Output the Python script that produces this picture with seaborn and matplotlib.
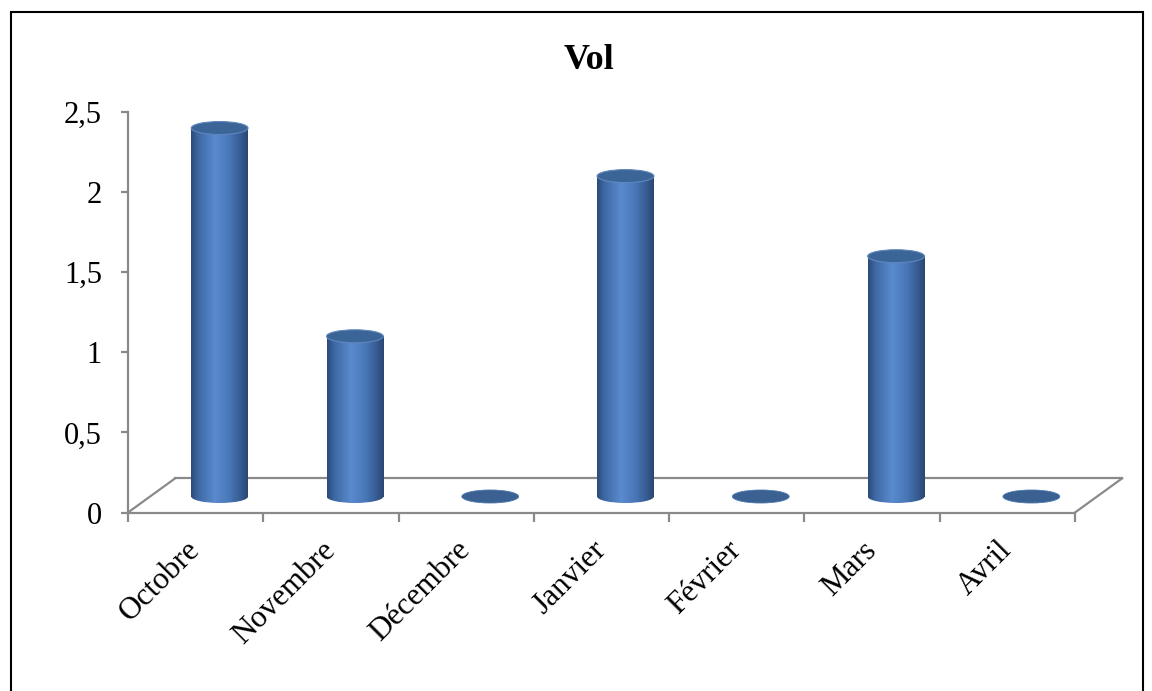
import numpy as np
import matplotlib
matplotlib.use("Agg")
import matplotlib.pyplot as plt
import seaborn as sns
import matplotlib.transforms as mtransforms
from matplotlib.patches import Ellipse, Rectangle
from matplotlib.lines import Line2D
from matplotlib.colors import LinearSegmentedColormap
from matplotlib.ticker import FuncFormatter

# ---- data ----
months = ["Octobre", "Novembre", "Décembre", "Janvier", "Février", "Mars", "Avril"]
values = [2.3, 1.0, 0.0, 2.0, 0.0, 1.5, 0.0]
title = "Vol"
yticks = [0, 0.5, 1, 1.5, 2, 2.5]

sns.set_style("white")
plt.rcParams["font.family"] = ["Liberation Serif", "DejaVu Serif"]
plt.rcParams["text.color"] = "black"

W, H = 1152, 691
fig = plt.figure(figsize=(W / 100, H / 100), dpi=100)
fig.patch.set_facecolor("white")
ax = fig.add_axes([128 / W, (H - 512.5) / H, 947 / W, 400.5 / H])

sns.barplot(x=months, y=values, width=0.42, color="#4a7abf", saturation=1, ax=ax)

# cylinder look: offset (depth), gradient body, ellipse caps
off = ax.transData + mtransforms.ScaledTranslation(24 / 100, 16 / 100, fig.dpi_scale_trans)
cmap = LinearSegmentedColormap.from_list(
    "cyl",
    [(0.0, "#2b4a78"), (0.12, "#3d67a2"), (0.42, "#5a8bcf"),
     (0.68, "#4877b7"), (0.88, "#365a90"), (1.0, "#2a4572")])
grad = np.linspace(0, 1, 256)[None, :]
eh = 13 / 160.0
gray = "#8a8a8a"

for p in list(ax.patches):
    x0, w, h = p.get_x(), p.get_width(), p.get_height()
    xc = x0 + w / 2
    p.set_transform(off)
    p.set_facecolor("none")
    p.set_edgecolor("none")
    if h > 0:
        ax.imshow(grad, extent=[x0, x0 + w, 0, h], aspect="auto", cmap=cmap,
                  transform=off, zorder=2, interpolation="bilinear")
        be = Ellipse((xc, 0), w, eh, transform=off, facecolor="none", edgecolor="none")
        ax.add_patch(be)
        im2 = ax.imshow(grad, extent=[x0, x0 + w, -eh / 2, eh / 2], aspect="auto",
                        cmap=cmap, transform=off, zorder=2, interpolation="bilinear")
        im2.set_clip_path(be)
        ax.add_patch(Ellipse((xc, h), w, eh, transform=off, facecolor="#3c6597",
                             edgecolor="#5f87bd", lw=0.8, zorder=4))
    else:
        ax.add_patch(Ellipse((xc, 0), w, eh, transform=off, facecolor="#3a6192",
                             edgecolor="#4c76ad", lw=0.6, zorder=4))

ax.set_xlim(-0.5, 6.5)
ax.set_ylim(0, 2.5)
ax.set_xlabel("")
ax.set_ylabel("")

# floor outline
dx, dy = 47 / 135.3, 34 / 160.0
for xs, ys in [([-0.5 + dx, 6.5 + dx], [dy, dy]),
               ([-0.5, -0.5 + dx], [0, dy]),
               ([6.5, 6.5 + dx], [0, dy])]:
    ax.add_line(Line2D(xs, ys, color=gray, lw=1.6, clip_on=False, zorder=1,
                       solid_capstyle="projecting"))

for s in ["top", "right"]:
    ax.spines[s].set_visible(False)
for s in ["left", "bottom"]:
    ax.spines[s].set_color(gray)
    ax.spines[s].set_linewidth(1.6)

ax.set_yticks(yticks)
ax.yaxis.set_major_formatter(FuncFormatter(lambda v, pos: f"{v:g}".replace(".", ",")))
ax.tick_params(axis="y", left=True, length=4.8, width=1.6, color=gray, pad=14,
               labelsize=22, labelcolor="black")

ax.set_xticks(range(len(months)))
ax.set_xticklabels(months, rotation=45, ha="right", va="center", rotation_mode="anchor")
ax.set_xticks(np.arange(-0.5, len(months), 1), minor=True)
ax.tick_params(axis="x", which="major", bottom=True, length=0, pad=24, labelsize=22.5,
               labelcolor="black")
ax.tick_params(axis="x", which="minor", bottom=True, length=6.5, width=1.6, color=gray,
               direction="out")

fig.text(589 / W, 1 - 69 / H, title, ha="center", va="baseline", fontsize=26,
         fontweight="bold", color="black")

fig.add_artist(Rectangle((11, -10), 1132, 689, transform=mtransforms.IdentityTransform(),
                         fill=False, edgecolor="black", lw=1.5))

fig.savefig("out.png", dpi=100)
